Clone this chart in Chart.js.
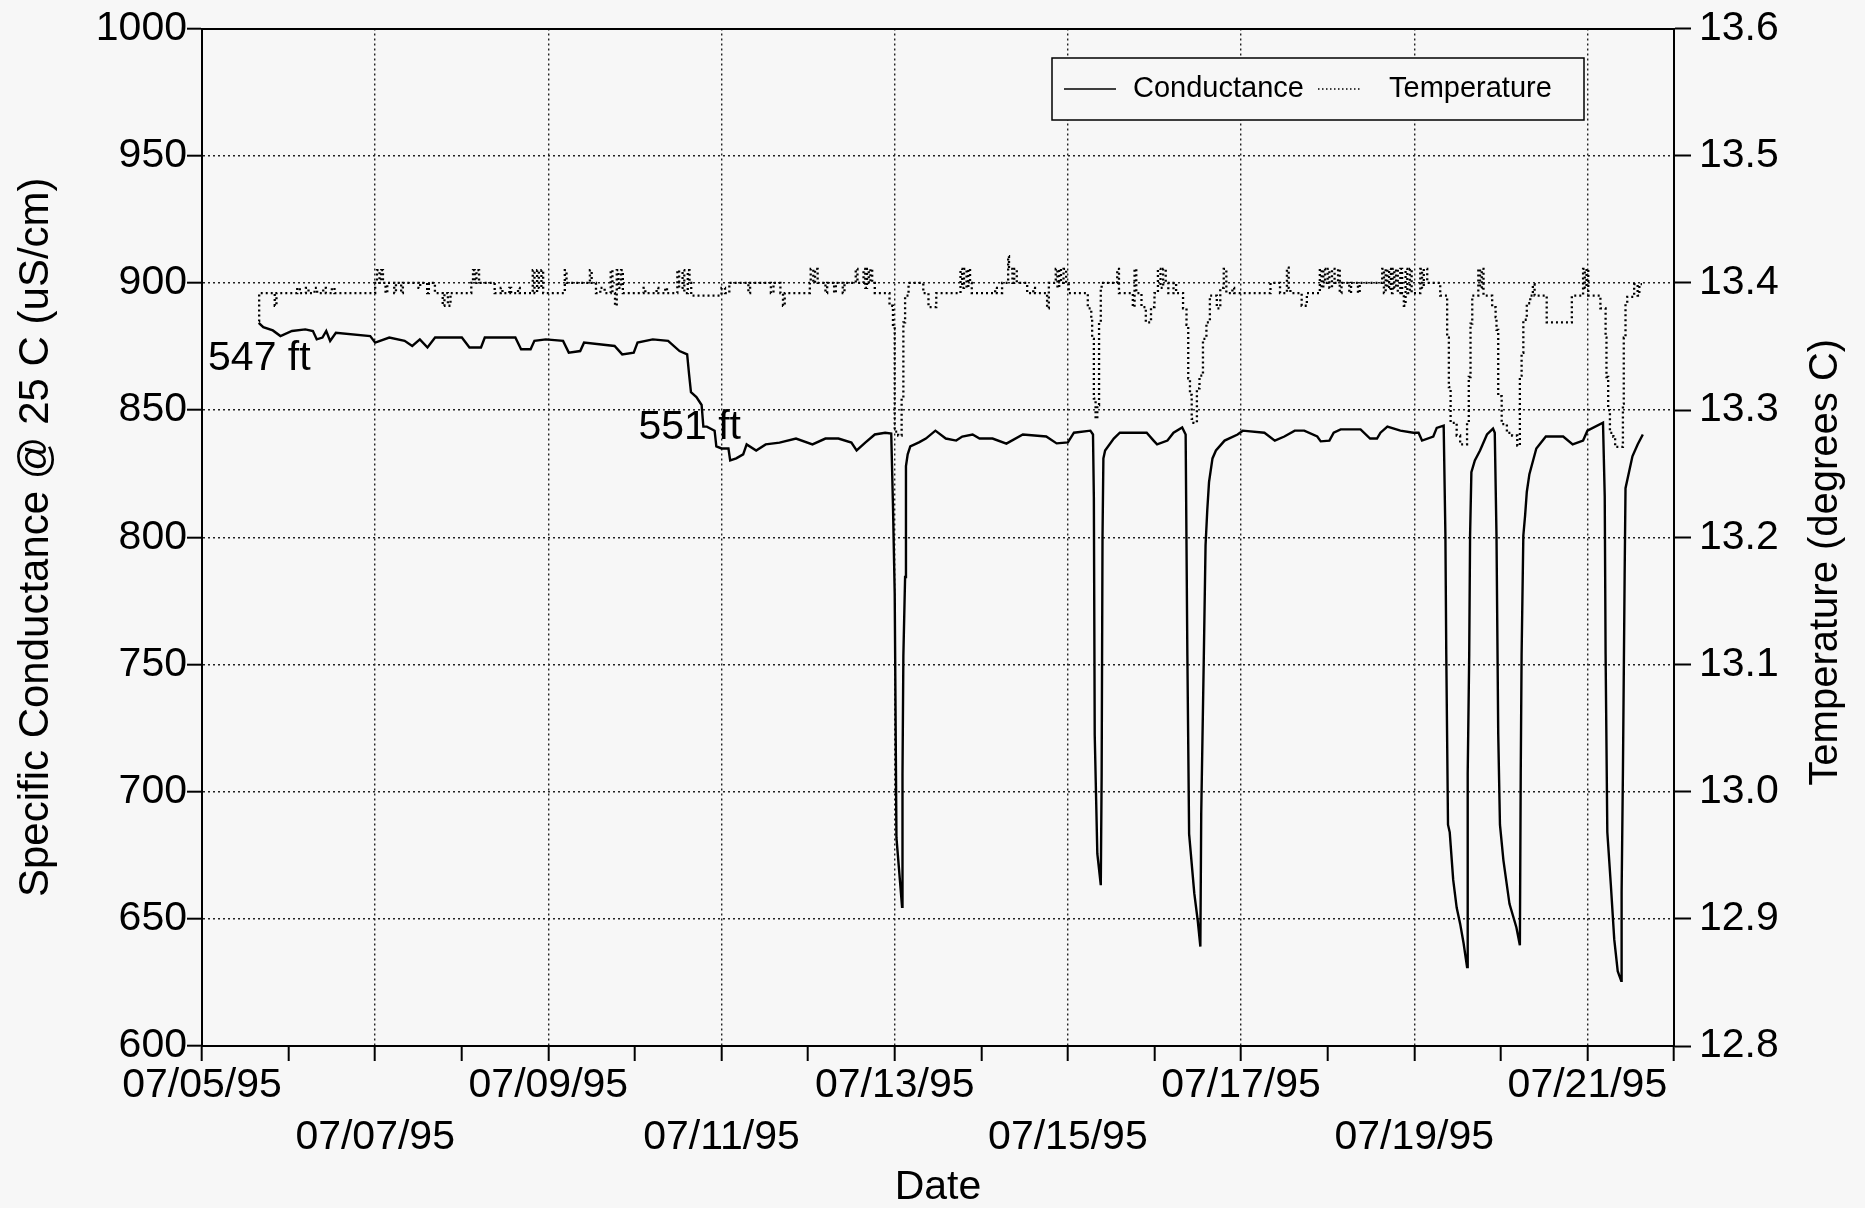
<!DOCTYPE html>
<html><head><meta charset="utf-8">
<script src="https://cdn.jsdelivr.net/npm/chart.js@4.4.1/dist/chart.umd.min.js"></script>
<style>html,body{margin:0;padding:0;background:#f7f7f7;}#wrap{width:1865px;height:1208px;}</style>
</head><body><div id="wrap"><canvas id="c" width="1865" height="1208"></canvas></div>
<script>
// ---- data (x = days since 07/05/95) ----
const xTickLabels = ['07/05/95','07/06/95','07/07/95','07/08/95','07/09/95','07/10/95','07/11/95','07/12/95','07/13/95','07/14/95','07/15/95','07/16/95','07/17/95','07/18/95','07/19/95','07/20/95','07/21/95','07/22/95'];
const seriesNames = ['Conductance', 'Temperature'];
const leftTitle = 'Specific Conductance @ 25 C (uS/cm)';
const rightTitle = 'Temperature (degrees C)';
const bottomTitle = 'Date';

const condDays = [0.655,0.708,0.818,0.906,1.039,1.193,1.281,1.325,1.391,1.435,1.48,1.546,1.943,2.0,2.163,2.34,2.428,2.516,2.604,2.692,3.001,3.089,3.222,3.266,3.619,3.685,3.795,3.839,3.971,4.17,4.236,4.368,4.412,4.765,4.853,4.986,5.03,5.206,5.383,5.515,5.603,5.625,5.647,5.71,5.77,5.79,5.83,5.92,5.94,6.0,6.08,6.1,6.17,6.25,6.29,6.4,6.51,6.67,6.86,7.05,7.2,7.35,7.5,7.56,7.66,7.77,7.89,7.96,7.98,8.0,8.02,8.05,8.085,8.09,8.1,8.12,8.13,8.15,8.18,8.28,8.36,8.47,8.59,8.71,8.78,8.9,8.98,9.13,9.29,9.48,9.75,9.87,10.0,10.07,10.26,10.29,10.3,10.31,10.34,10.38,10.39,10.4,10.41,10.43,10.53,10.6,10.91,10.99,11.03,11.15,11.22,11.32,11.36,11.38,11.4,11.46,11.5,11.53,11.54,11.57,11.59,11.61,11.63,11.67,11.71,11.81,11.96,12.02,12.27,12.39,12.5,12.62,12.73,12.88,12.92,13.02,13.07,13.15,13.38,13.49,13.57,13.61,13.69,13.84,13.99,14.05,14.09,14.22,14.26,14.34,14.36,14.37,14.39,14.41,14.45,14.49,14.53,14.57,14.61,14.615,14.62,14.635,14.645,14.66,14.7,14.76,14.84,14.91,14.93,14.95,14.97,14.99,15.03,15.1,15.18,15.22,15.23,15.24,15.26,15.28,15.3,15.33,15.41,15.52,15.72,15.83,15.95,16.0,16.18,16.2,16.21,16.23,16.27,16.31,16.35,16.39,16.395,16.41,16.43,16.44,16.48,16.52,16.58,16.64];
const condValues = [884.3,882.6,881.3,879.1,881.1,881.7,881.1,877.8,878.5,881.1,877.2,880.4,879.1,876.5,878.5,877.2,875.2,877.8,874.6,878.5,878.5,874.6,874.6,878.5,878.5,873.9,873.9,877.2,877.8,877.2,872.6,873.2,876.5,875.2,871.9,872.6,876.5,877.8,877.2,873.2,871.9,864.1,857.0,855.1,852.0,843.5,843.5,841.9,835.7,834.9,834.9,830.2,831.0,832.6,836.5,834.1,836.5,837.2,838.8,836.5,838.8,838.8,837.2,834.1,837.2,840.4,841.1,840.8,812.3,778.0,681.9,669.4,654.7,706.7,753.3,784.4,828.0,832.6,835.7,837.3,838.8,841.9,838.8,838.0,839.6,840.4,838.8,838.8,836.8,840.4,839.6,836.9,837.3,841.1,841.9,840.4,815.5,722.3,675.6,663.2,706.7,800.0,831.0,834.1,838.8,841.1,841.1,838.0,836.5,838.0,841.1,843.2,840.4,753.4,683.4,660.0,649.2,639.1,691.2,753.3,796.9,810.8,821.7,831.0,834.1,838.0,840.4,841.9,841.1,838.0,839.6,841.9,841.9,839.6,837.7,838.0,841.1,842.4,842.4,838.8,838.8,841.1,843.5,841.9,841.1,841.1,838.0,839.6,843.0,843.9,800.7,754.0,687.0,684.0,665.3,654.4,648.1,640.4,631.0,676.0,707.3,754.0,800.7,825.6,830.2,834.1,840.4,842.7,841.1,800.7,722.8,687.0,673.0,655.9,646.6,639.6,707.3,754.0,800.7,808.4,817.8,824.8,834.9,839.6,839.6,836.5,838.0,841.9,845.0,816.2,754.0,684.0,663.7,641.9,629.4,625.6,660.6,707.3,785.1,819.3,825.6,831.8,836.5,840.4];

const tempDays = [0.655,0.66,0.84,0.86,1.10,1.13,1.20,1.23,1.30,1.33,1.40,1.43,1.50,1.53,2.00,2.02,2.05,2.07,2.09,2.12,2.14,2.22,2.24,2.30,2.32,2.50,2.52,2.60,2.62,2.69,2.78,2.80,2.84,2.87,3.11,3.13,3.15,3.17,3.20,3.38,3.45,3.47,3.55,3.57,3.65,3.67,3.82,3.84,3.87,3.89,3.92,3.94,4.19,4.21,4.48,4.50,4.55,4.60,4.65,4.72,4.74,4.77,4.79,4.81,4.84,4.86,5.10,5.12,5.25,5.27,5.35,5.37,5.49,5.51,5.55,5.57,5.61,5.63,5.65,6.00,6.04,6.09,6.31,6.33,6.57,6.60,6.68,6.71,6.73,7.02,7.03,7.06,7.08,7.11,7.20,7.22,7.30,7.32,7.40,7.42,7.55,7.57,7.64,7.66,7.68,7.70,7.72,7.74,7.77,7.94,7.98,8.00,8.04,8.08,8.10,8.12,8.16,8.33,8.39,8.48,8.76,8.78,8.80,8.83,8.85,8.87,8.89,9.16,9.18,9.24,9.31,9.32,9.36,9.38,9.41,9.53,9.60,9.62,9.76,9.78,9.86,9.88,9.90,9.92,9.95,9.98,10.01,10.23,10.27,10.28,10.30,10.32,10.34,10.36,10.38,10.39,10.57,10.59,10.75,10.77,10.79,10.85,10.90,10.96,11.00,11.04,11.07,11.10,11.13,11.16,11.22,11.25,11.33,11.37,11.39,11.41,11.43,11.45,11.49,11.52,11.56,11.60,11.64,11.72,11.76,11.80,11.83,11.90,11.92,12.34,12.45,12.53,12.55,12.57,12.70,12.76,12.91,12.93,12.95,12.97,13.00,13.02,13.05,13.08,13.12,13.14,13.16,13.25,13.27,13.35,13.37,13.63,13.65,13.67,13.69,13.71,13.73,13.75,13.77,13.79,13.81,13.84,13.86,13.88,13.90,13.92,13.95,13.97,14.07,14.09,14.11,14.15,14.30,14.38,14.40,14.42,14.49,14.53,14.61,14.63,14.65,14.67,14.74,14.76,14.78,14.80,14.90,14.94,14.95,14.97,15.01,15.07,15.13,15.19,15.22,15.24,15.26,15.30,15.34,15.37,15.39,15.53,15.82,15.95,15.97,15.99,16.01,16.15,16.21,16.22,16.24,16.26,16.30,16.32,16.41,16.42,16.44,16.46,16.54,16.58,16.60,16.63];
const tempValues = [13.370,13.392,13.382,13.392,13.396,13.392,13.396,13.392,13.396,13.392,13.396,13.392,13.396,13.392,13.400,13.410,13.400,13.410,13.400,13.392,13.400,13.392,13.400,13.392,13.400,13.396,13.400,13.392,13.400,13.392,13.382,13.392,13.382,13.392,13.400,13.410,13.400,13.410,13.400,13.392,13.396,13.392,13.396,13.392,13.396,13.392,13.410,13.392,13.410,13.396,13.410,13.392,13.410,13.400,13.410,13.400,13.392,13.396,13.392,13.410,13.392,13.382,13.410,13.396,13.410,13.392,13.396,13.392,13.396,13.392,13.396,13.392,13.410,13.396,13.410,13.392,13.410,13.400,13.390,13.396,13.392,13.400,13.392,13.400,13.392,13.400,13.392,13.382,13.392,13.400,13.411,13.400,13.411,13.400,13.392,13.400,13.392,13.400,13.392,13.400,13.411,13.400,13.411,13.396,13.411,13.400,13.411,13.400,13.392,13.382,13.367,13.283,13.280,13.309,13.369,13.390,13.400,13.392,13.381,13.392,13.411,13.396,13.411,13.396,13.411,13.400,13.392,13.396,13.392,13.400,13.421,13.411,13.400,13.411,13.400,13.392,13.396,13.392,13.380,13.400,13.411,13.396,13.411,13.400,13.411,13.400,13.392,13.380,13.372,13.356,13.309,13.293,13.304,13.369,13.395,13.400,13.411,13.392,13.381,13.411,13.392,13.381,13.369,13.381,13.392,13.411,13.396,13.411,13.400,13.392,13.400,13.392,13.380,13.367,13.325,13.312,13.293,13.290,13.317,13.327,13.356,13.369,13.390,13.380,13.396,13.411,13.392,13.396,13.392,13.400,13.392,13.412,13.396,13.392,13.382,13.392,13.411,13.396,13.411,13.400,13.411,13.396,13.411,13.400,13.411,13.392,13.400,13.392,13.400,13.392,13.400,13.411,13.392,13.411,13.396,13.411,13.392,13.411,13.396,13.411,13.392,13.411,13.392,13.382,13.411,13.392,13.411,13.392,13.411,13.396,13.411,13.400,13.390,13.357,13.318,13.290,13.280,13.273,13.290,13.326,13.368,13.390,13.411,13.396,13.411,13.390,13.381,13.373,13.363,13.311,13.289,13.282,13.280,13.272,13.327,13.345,13.371,13.384,13.390,13.399,13.390,13.369,13.390,13.411,13.396,13.411,13.390,13.380,13.357,13.326,13.300,13.282,13.279,13.271,13.305,13.357,13.384,13.389,13.399,13.390,13.399,13.399];

const annotations = [
  {text: '547 ft', day: 0.07, value: 870.3},
  {text: '551 ft', day: 5.04, value: 843.0}
];

// ---- chart ----
const FONT = "'Liberation Sans', Arial, Helvetica, sans-serif";
const BG = '#f7f7f7';
const condData = condDays.map((d, i) => ({x: d, y: condValues[i]}));
const tempData = tempDays.map((d, i) => ({x: d, y: tempValues[i]}));

const overlay = {
  id: 'overlay',
  afterDraw(chart) {
    const c = chart.ctx, xs = chart.scales.x, ys = chart.scales.y, ca = chart.chartArea;
    c.save();
    c.fillStyle = '#000';
    c.textBaseline = 'middle';
    c.textAlign = 'left';
    c.font = '41px ' + FONT;
    annotations.forEach(a => c.fillText(a.text, xs.getPixelForValue(a.day), ys.getPixelForValue(a.value)));
    // right axis title (reads bottom-to-top)
    c.save();
    c.translate(chart.width - 39, (ca.top + ca.bottom) / 2 + 25);
    c.rotate(-Math.PI / 2);
    c.textAlign = 'center';
    c.font = '40px ' + FONT;
    c.fillText(rightTitle, 0, 0);
    c.restore();
    // legend box
    const bx = 1052, by = 58, bw = 532, bh = 62, cy = by + bh / 2;
    c.fillStyle = BG;
    c.fillRect(bx, by, bw, bh);
    c.strokeStyle = '#000';
    c.lineWidth = 1.5;
    c.strokeRect(bx, by, bw, bh);
    c.fillStyle = '#000';
    c.font = '29px ' + FONT;
    const ds = chart.data.datasets;
    c.beginPath(); c.moveTo(1064, cy); c.lineTo(1116, cy); c.stroke();
    c.fillText(ds[0].label, 1133, cy);
    c.setLineDash([1.5, 2.5]);
    c.beginPath(); c.moveTo(1318, cy); c.lineTo(1360, cy); c.stroke();
    c.setLineDash([]);
    c.fillText(ds[1].label, 1389, cy);
    c.restore();
  }
};

new Chart(document.getElementById('c'), {
  type: 'line',
  data: {
    datasets: [
      {label: seriesNames[0], data: condData, xAxisID: 'x', yAxisID: 'y', borderColor: '#000', borderWidth: 2.4, pointRadius: 0, tension: 0, fill: false},
      {label: seriesNames[1], data: tempData, xAxisID: 'x', yAxisID: 'y2', borderColor: '#000', borderWidth: 2.3, borderDash: [2, 3], pointRadius: 0, stepped: true, fill: false}
    ]
  },
  options: {
    responsive: false, animation: false, devicePixelRatio: 1,
    layout: {padding: 0},
    plugins: {legend: {display: false}, tooltip: {enabled: false}},
    scales: {
      x: {
        type: 'linear', position: 'bottom', min: 0, max: 17,
        afterFit(s) { s.height = 162; },
        ticks: {
          stepSize: 1, autoSkip: false, maxRotation: 0, minRotation: 0, padding: -2, color: '#000',
          font: {family: FONT, size: 41, lineHeight: 1.28},
          callback(v) {
            const i = Math.round(v);
            if (i % 2) return '';
            return (i % 4 === 0) ? [xTickLabels[i], ''] : ['', xTickLabels[i]];
          }
        },
        grid: {
          color(ctx) { return (ctx.tick && Math.round(ctx.tick.value) % 2 === 0) ? '#222' : 'rgba(0,0,0,0)'; },
          tickColor: '#000', lineWidth: 1.4, tickLength: 15, tickWidth: 2
        },
        border: {display: true, color: '#000', width: 2, dash: [2, 3]},
        title: {display: true, text: bottomTitle, color: '#000', font: {family: FONT, size: 41, lineHeight: 1}, padding: {top: 0, bottom: 0}}
      },
      x2: {
        type: 'linear', position: 'top', min: 0, max: 17,
        afterFit(s) { s.height = 28; },
        ticks: {display: false},
        grid: {drawOnChartArea: false, drawTicks: false},
        border: {display: true, color: '#000', width: 2}
      },
      y: {
        type: 'linear', position: 'left', min: 600, max: 1000,
        afterFit(s) { s.width = 202; },
        ticks: {stepSize: 50, padding: 0, color: '#000', font: {family: FONT, size: 41, lineHeight: 1}, callback: v => String(v)},
        grid: {color: '#222', lineWidth: 1.4, tickLength: 15, tickColor: '#000', tickWidth: 2},
        border: {display: true, color: '#000', width: 2, dash: [2, 3]},
        title: {display: true, text: leftTitle, color: '#000', font: {family: FONT, size: 42, lineHeight: 1}, padding: {top: 15, bottom: 0}}
      },
      y2: {
        type: 'linear', position: 'right', min: 12.8, max: 13.6,
        afterFit(s) { s.width = 191; },
        ticks: {stepSize: 0.1, padding: 8, color: '#000', font: {family: FONT, size: 41, lineHeight: 1}, callback: v => Number(v).toFixed(1)},
        grid: {drawOnChartArea: false, tickLength: 17, tickColor: '#000', tickWidth: 2},
        border: {display: true, color: '#000', width: 2}
      }
    }
  },
  plugins: [overlay]
});
</script>
</body></html>
